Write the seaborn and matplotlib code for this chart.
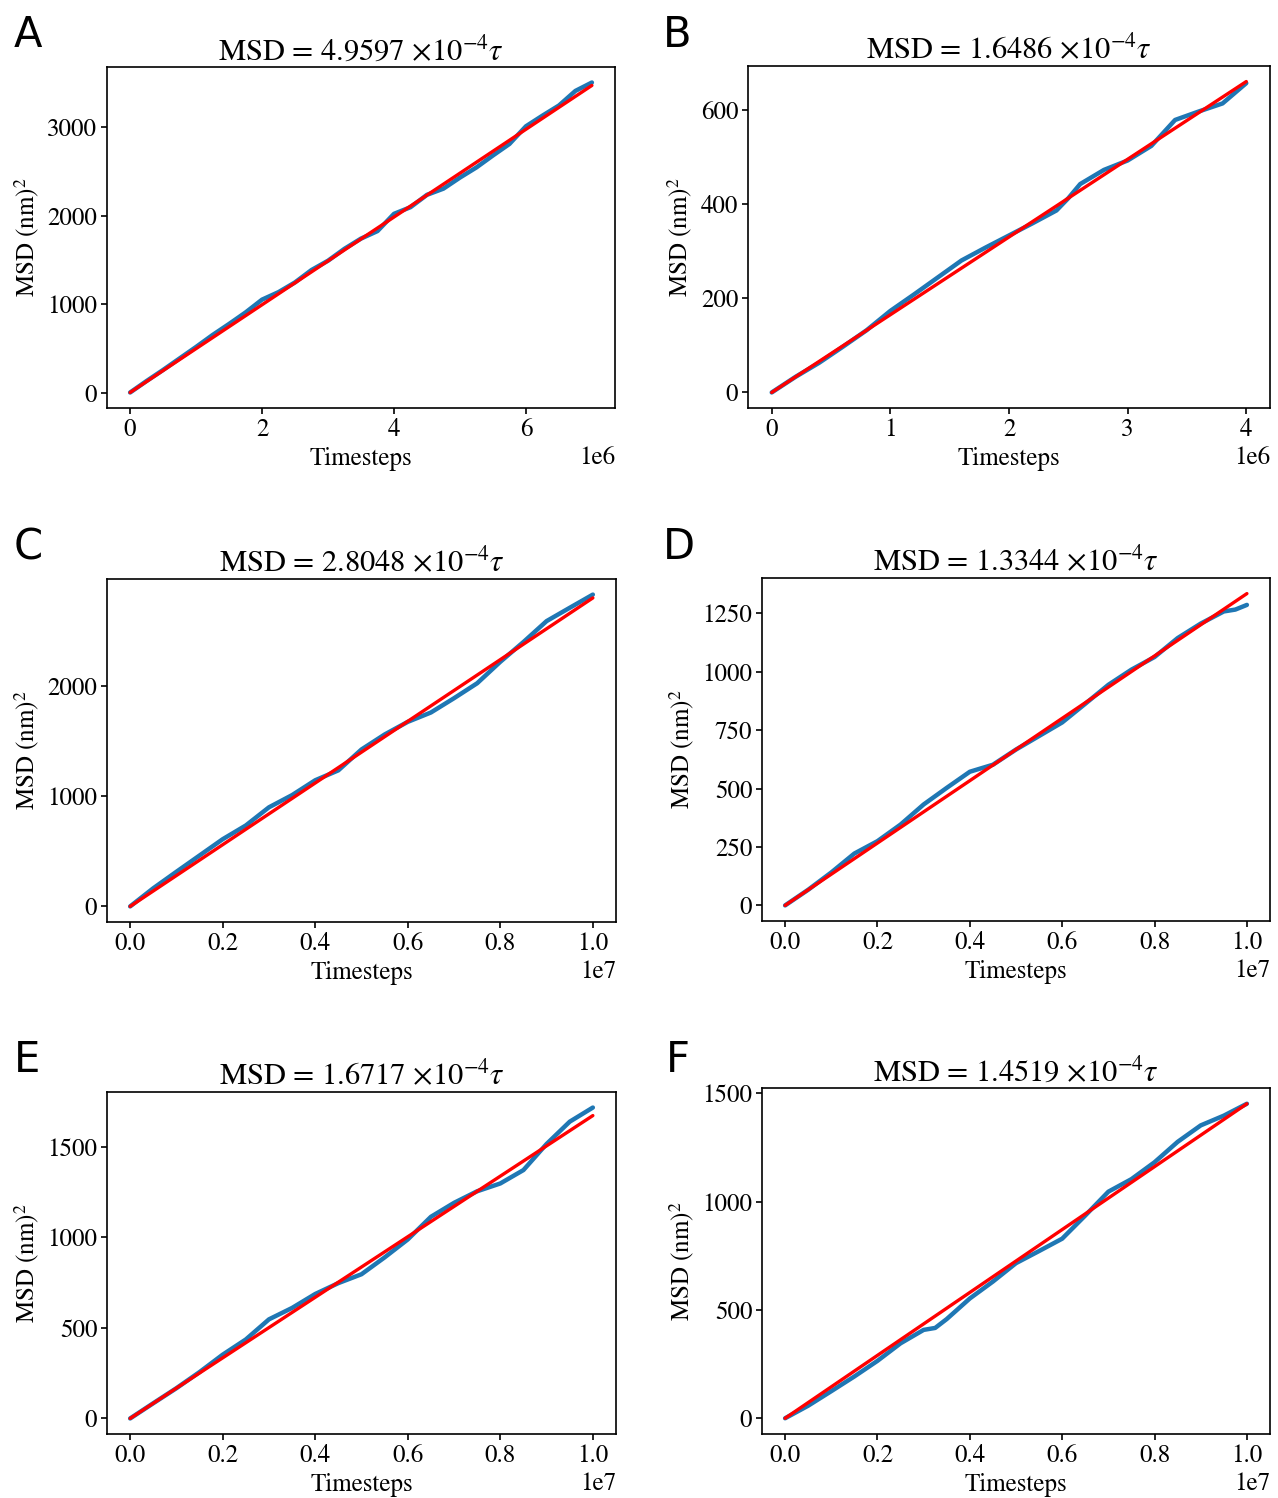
import numpy as np
import pandas as pd
import seaborn as sns
import matplotlib.pyplot as plt

# ---- data (t in units of the axis offset) ----
a_t = [0, 0.25, 0.5, 0.75, 1.0, 1.25, 1.5, 1.75, 2.0, 2.25, 2.5, 2.75, 3.0, 3.25, 3.5,
       3.75, 4.0, 4.25, 4.5, 4.75, 5.0, 5.25, 5.5, 5.75, 6.0, 6.25, 6.5, 6.75, 7.0]
a_msd = [0, 130, 255, 385, 515, 650, 775, 905, 1050, 1135, 1245, 1385, 1490, 1625, 1740,
         1825, 2020, 2095, 2235, 2305, 2430, 2545, 2680, 2810, 3010, 3130, 3245, 3410, 3505]

b_t = [0, 0.2, 0.4, 0.6, 0.8, 1.0, 1.2, 1.4, 1.6, 1.8, 2.0, 2.2, 2.4, 2.5, 2.6, 2.8,
       3.0, 3.2, 3.4, 3.6, 3.8, 4.0]
b_msd = [0, 33, 63, 97, 132, 173, 208, 244, 280, 307, 333, 359, 386, 412, 442, 472,
         492, 523, 578, 596, 613, 656]

c_t = [0, 0.05, 0.10, 0.15, 0.20, 0.25, 0.30, 0.35, 0.40, 0.45, 0.50, 0.55, 0.60, 0.65,
       0.70, 0.75, 0.80, 0.85, 0.90, 0.95, 1.00]
c_msd = [0, 165, 315, 463, 611, 736, 901, 1012, 1147, 1237, 1427, 1563, 1678, 1763,
         1893, 2029, 2224, 2404, 2594, 2715, 2835]

d_t = [0, 0.05, 0.10, 0.15, 0.20, 0.25, 0.30, 0.35, 0.40, 0.45, 0.50, 0.55, 0.60, 0.65,
       0.70, 0.75, 0.80, 0.85, 0.90, 0.95, 0.975, 1.00]
d_msd = [0, 67, 141, 222, 275, 346, 432, 503, 572, 602, 667, 725, 783, 863,
         944, 1009, 1063, 1144, 1206, 1258, 1266, 1286]

e_t = [0, 0.05, 0.10, 0.15, 0.20, 0.25, 0.30, 0.35, 0.40, 0.45, 0.50, 0.55, 0.60, 0.65,
       0.70, 0.75, 0.80, 0.85, 0.90, 0.95, 1.00]
e_msd = [0, 84, 167, 256, 352, 436, 547, 610, 687, 747, 796, 889, 988, 1113,
         1190, 1254, 1297, 1371, 1515, 1638, 1716]

f_t = [0, 0.05, 0.10, 0.15, 0.20, 0.25, 0.30, 0.325, 0.35, 0.40, 0.45, 0.50, 0.55, 0.60,
       0.65, 0.70, 0.75, 0.80, 0.85, 0.90, 0.95, 1.00]
f_msd = [0, 58, 125, 193, 265, 346, 408, 417, 458, 553, 631, 716, 772, 829,
         936, 1046, 1104, 1182, 1276, 1352, 1397, 1452]

# fitted slopes (x 1e-4) from the titles
slopes = [4.9597, 1.6486, 2.8048, 1.3344, 1.6717, 1.4519]
t_scales = [1e6, 1e6, 1e7, 1e7, 1e7, 1e7]
letters = ['A', 'B', 'C', 'D', 'E', 'F']

xticks_a = [0, 2, 4, 6]
xticks_b = [0, 1, 2, 3, 4]
xticks_rest = [0, 0.2, 0.4, 0.6, 0.8, 1.0]
yticks = [[0, 1000, 2000, 3000], [0, 200, 400, 600], [0, 1000, 2000],
          [0, 250, 500, 750, 1000, 1250], [0, 500, 1000, 1500], [0, 500, 1000, 1500]]

panels = [(a_t, a_msd, xticks_a), (b_t, b_msd, xticks_b), (c_t, c_msd, xticks_rest),
          (d_t, d_msd, xticks_rest), (e_t, e_msd, xticks_rest), (f_t, f_msd, xticks_rest)]

# axes boxes in pixels: left, right, top, bottom
boxes = [(107, 615, 67, 408), (748, 1270, 66, 408),
         (107, 616, 579, 922), (762, 1270, 578, 921),
         (107, 616, 1092, 1434), (762, 1270, 1088, 1434)]
letter_pos = [(14, 14), (663, 14), (14, 526), (663, 526), (14, 1039), (666, 1039)]

sns.set_style('ticks', {'axes.edgecolor': 'black', 'text.color': 'black',
                        'axes.labelcolor': 'black', 'xtick.color': 'black',
                        'ytick.color': 'black'})
plt.rcParams['font.family'] = ['STIXGeneral', 'DejaVu Serif']
plt.rcParams['mathtext.fontset'] = 'stix'
plt.rcParams['font.size'] = 18
plt.rcParams['axes.linewidth'] = 1.2
plt.rcParams['xtick.major.width'] = 1.2
plt.rcParams['ytick.major.width'] = 1.2
plt.rcParams['xtick.major.size'] = 4
plt.rcParams['ytick.major.size'] = 4

W, H = 1278, 1498
fig = plt.figure(figsize=(W / 100, H / 100), dpi=100)

for i, (t, msd, xt) in enumerate(panels):
    l, r, top, bot = boxes[i]
    ax = fig.add_axes([l / W, 1 - bot / H, (r - l) / W, (bot - top) / H])
    sc = t_scales[i]
    df = pd.DataFrame({'t': np.array(t) * sc, 'msd': msd})
    df['fit'] = slopes[i] * 1e-4 * df['t']
    sns.lineplot(data=df, x='t', y='msd', ax=ax, color='#1f77b4', linewidth=3.2)
    sns.lineplot(data=df, x='t', y='fit', ax=ax, color='red', linewidth=2.4)
    ax.set_xticks(np.array(xt) * sc)
    ax.set_yticks(yticks[i])
    ax.tick_params(labelsize=18, pad=3)
    ax.xaxis.get_offset_text().set_fontsize(18)
    ax.set_xlabel('Timesteps', fontsize=18, labelpad=4)
    ax.set_ylabel('MSD (nm)$^2$', fontsize=18)
    ax.set_title('MSD = %.4f $\\times 10^{-4} \\tau$' % slopes[i], fontsize=22, pad=5)
    fig.text(letter_pos[i][0] / W, 1 - letter_pos[i][1] / H, letters[i],
             family='DejaVu Sans', fontsize=30, ha='left', va='top', color='black')

fig.savefig('out.png', dpi=100)
